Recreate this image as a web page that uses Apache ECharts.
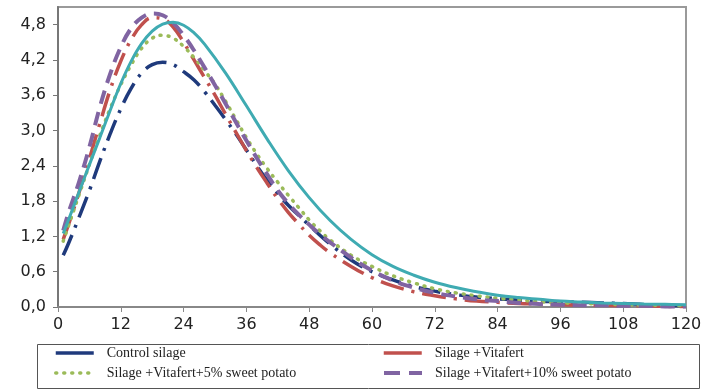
<!DOCTYPE html>
<html>
<head>
<meta charset="utf-8">
<script src="https://cdn.jsdelivr.net/npm/echarts@6/dist/echarts.min.js"></script>
<style>html,body{margin:0;padding:0;background:#fff}#c{width:707px;height:392px}</style>
</head>
<body>
<div id="c"></div>
<script>
// Control silage
const ctrlX = [1, 2, 4, 6, 8, 10, 12, 14, 16, 18, 20, 22, 24, 26, 28, 30, 32, 34, 36, 38, 40, 42, 44, 46, 48, 52, 56, 60, 64, 68, 72, 76, 80, 84, 88, 92, 96, 100, 104, 108, 112, 116, 120];
const ctrlY = [0.88, 1.08, 1.52, 1.98, 2.48, 2.95, 3.37, 3.72, 3.98, 4.12, 4.16, 4.12, 4.0, 3.86, 3.66, 3.43, 3.19, 2.94, 2.67, 2.4, 2.15, 1.93, 1.73, 1.56, 1.39, 1.07, 0.8, 0.6, 0.46, 0.35, 0.27, 0.21, 0.17, 0.14, 0.12, 0.1, 0.09, 0.08, 0.07, 0.06, 0.04, 0.03, 0.02];
// Silage + Vitafert
const vitX = [1, 2, 4, 6, 8, 10, 12, 14, 16, 18, 20, 22, 24, 26, 28, 30, 32, 34, 36, 38, 40, 42, 44, 46, 48, 50, 52, 56, 60, 64, 68, 72, 76, 80, 84, 88, 92, 96, 100, 104, 108, 112, 116, 120];
const vitY = [1.15, 1.4, 1.94, 2.52, 3.12, 3.7, 4.18, 4.55, 4.8, 4.92, 4.9, 4.76, 4.5, 4.2, 3.9, 3.6, 3.28, 2.97, 2.66, 2.37, 2.1, 1.84, 1.61, 1.41, 1.22, 1.06, 0.92, 0.69, 0.5, 0.36, 0.26, 0.19, 0.14, 0.1, 0.08, 0.06, 0.05, 0.04, 0.03, 0.03, 0.02, 0.02, 0.01, 0.01];
// Silage + Vitafert + 5% sweet potato
const sp5X = [1, 2, 4, 6, 8, 10, 12, 14, 16, 18, 20, 22, 24, 26, 28, 30, 32, 34, 36, 38, 40, 42, 44, 46, 48, 50, 52, 56, 60, 64, 68, 72, 76, 80, 84, 88, 92, 96, 100, 104, 108, 112, 116, 120];
const sp5Y = [1.12, 1.38, 1.9, 2.42, 2.92, 3.38, 3.78, 4.12, 4.4, 4.57, 4.62, 4.57, 4.43, 4.24, 4.02, 3.79, 3.5, 3.19, 2.88, 2.6, 2.35, 2.12, 1.9, 1.69, 1.48, 1.3, 1.14, 0.88, 0.69, 0.53, 0.41, 0.31, 0.24, 0.19, 0.15, 0.12, 0.09, 0.07, 0.06, 0.05, 0.04, 0.03, 0.03, 0.02];
// Silage + Vitafert + 10% sweet potato
const sp10X = [1, 2, 4, 6, 8, 10, 12, 14, 16, 18, 20, 22, 24, 26, 28, 30, 32, 34, 36, 38, 40, 42, 44, 46, 48, 50, 52, 56, 60, 64, 68, 72, 76, 80, 84, 88, 92, 96, 100, 104, 108, 112, 116, 120];
const sp10Y = [1.3, 1.6, 2.12, 2.72, 3.4, 3.97, 4.42, 4.74, 4.92, 4.99, 4.96, 4.83, 4.62, 4.36, 4.07, 3.77, 3.46, 3.14, 2.83, 2.53, 2.25, 1.98, 1.76, 1.57, 1.4, 1.24, 1.1, 0.84, 0.62, 0.45, 0.33, 0.24, 0.18, 0.13, 0.1, 0.07, 0.05, 0.04, 0.03, 0.03, 0.02, 0.02, 0.01, 0.01];
// Unlabelled solid curve
const fitX = [1, 2, 4, 6, 8, 10, 12, 14, 16, 18, 20, 22, 24, 26, 28, 32, 36, 40, 44, 48, 52, 56, 60, 64, 68, 72, 76, 80, 84, 88, 92, 96, 100, 104, 108, 112, 116, 120];
const fitY = [1.25, 1.48, 1.95, 2.42, 2.88, 3.35, 3.8, 4.18, 4.48, 4.69, 4.81, 4.84, 4.79, 4.66, 4.47, 3.98, 3.42, 2.85, 2.32, 1.86, 1.47, 1.15, 0.89, 0.69, 0.54, 0.42, 0.33, 0.26, 0.2, 0.16, 0.13, 0.1, 0.085, 0.07, 0.06, 0.05, 0.045, 0.04];

const xTicks = { min: 0, max: 120, interval: 12 };
const yTicks = { min: 0, max: 5.1, interval: 0.6 };
const names = ['Control silage', 'Silage +Vitafert', 'Silage +Vitafert+5% sweet potato', 'Silage +Vitafert+10% sweet potato'];

const pairs = (xs, ys) => xs.map((x, i) => [x, ys[i]]);

const chart = echarts.init(document.getElementById('c'), null, { renderer: 'canvas' });
const legendText = { fontFamily: 'Liberation Serif', fontSize: 14, color: '#222', padding: [0, 0, 0, 8] };
function leg(name, left, top, ls) {
  return { data: [name], left: left, top: top, itemWidth: 38, itemHeight: 12, textStyle: legendText,
    lineStyle: ls, itemStyle: { opacity: 0 }, selectedMode: false, padding: 0, itemGap: 14 };
}
const tickFont = { fontFamily: '"DejaVu Sans", Verdana, sans-serif', fontSize: 16, color: '#222' };
chart.setOption({
  animation: false,
  grid: { left: 58, right: 21, top: 7, bottom: 85, show: true, borderColor: '#9a9a9a', borderWidth: 2 },
  xAxis: {
    type: 'value', min: xTicks.min, max: xTicks.max, interval: xTicks.interval,
    axisLine: { lineStyle: { color: '#888', width: 2 } },
    axisTick: { show: true, length: 5, lineStyle: { color: '#888' } },
    splitLine: { show: false },
    axisLabel: Object.assign({ margin: 10 }, tickFont)
  },
  yAxis: {
    type: 'value', min: yTicks.min, max: yTicks.max, interval: yTicks.interval,
    axisLine: { show: true, lineStyle: { color: '#777', width: 2 } },
    axisTick: { show: true, length: 5, lineStyle: { color: '#777' } },
    splitLine: { show: false },
    axisLabel: Object.assign({ margin: 12, showMaxLabel: false,
      formatter: v => v.toFixed(1).replace('.', ',') }, tickFont)
  },
  legend: [
    leg(names[0], 54, 346, { type: 'solid', width: 3.5 }),
    leg(names[1], 382, 346, { type: 'solid', width: 3.5 }),
    leg(names[2], 54, 366, { type: [1, 7], cap: 'round', width: 3.5 }),
    leg(names[3], 382, 366, { type: [16, 9], width: 4 })
  ],
  graphic: [{ type: 'rect', left: 35, top: 342, shape: { width: 662, height: 44 }, style: { fill: 'none', stroke: '#555', lineWidth: 1 } }],
  series: [
    { name: names[0], type: 'line', smooth: 0.4, symbol: 'none', data: pairs(ctrlX, ctrlY), color: '#1f3a7c',
      lineStyle: { width: 3.5, type: [22, 8, 3, 8], color: '#1f3a7c' } },
    { name: names[1], type: 'line', smooth: 0.4, symbol: 'none', data: pairs(vitX, vitY), color: '#c0504d',
      lineStyle: { width: 3.5, type: [24, 8, 3, 8], color: '#c0504d' } },
    { name: names[2], type: 'line', smooth: 0.4, symbol: 'none', data: pairs(sp5X, sp5Y), color: '#9bbb59',
      lineStyle: { width: 3.5, type: [1, 7], cap: 'round', color: '#9bbb59' } },
    { name: names[3], type: 'line', smooth: 0.4, symbol: 'none', data: pairs(sp10X, sp10Y), color: '#8064a2',
      lineStyle: { width: 4, type: [14, 8], color: '#8064a2' } },
    { name: 'Fitted', type: 'line', smooth: 0.4, symbol: 'none', data: pairs(fitX, fitY), color: '#3fabb2',
      lineStyle: { width: 3, type: 'solid', color: '#3fabb2' } }
  ]
});
</script>
</body>
</html>
